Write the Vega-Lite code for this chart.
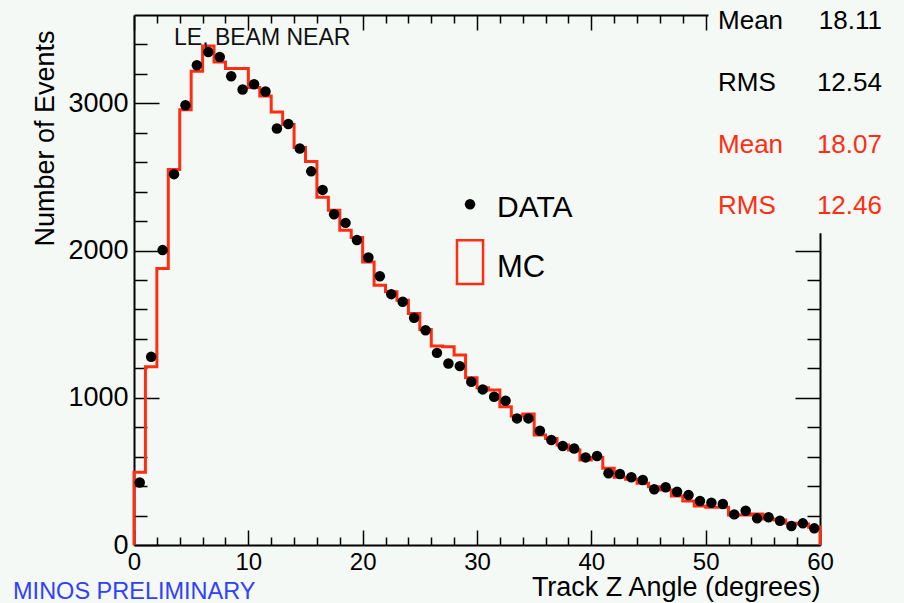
{
  "$schema": "https://vega.github.io/schema/vega-lite/v6.json",
  "width": 686,
  "height": 530,
  "autosize": {"type": "none"},
  "padding": {"left": 134, "top": 15, "right": 84, "bottom": 58},
  "background": "#f4f9f6",
  "config": {
    "view": {"stroke": null},
    "font": "Liberation Sans",
    "axis": {"grid": false, "domainColor": "black", "tickColor": "black", "labelColor": "black", "titleColor": "black", "labelFont": "Liberation Sans", "titleFont": "Liberation Sans", "titleFontWeight": "normal", "labelFlush": false, "labelOverlap": false}
  },
  "datasets": {
    "hist": [
      {"center": 0.5, "data": 425}, {"center": 1.5, "data": 1278}, {"center": 2.5, "data": 2003}, {"center": 3.5, "data": 2519},
      {"center": 4.5, "data": 2987}, {"center": 5.5, "data": 3259}, {"center": 6.5, "data": 3349}, {"center": 7.5, "data": 3315},
      {"center": 8.5, "data": 3184}, {"center": 9.5, "data": 3094}, {"center": 10.5, "data": 3130}, {"center": 11.5, "data": 3080},
      {"center": 12.5, "data": 2829}, {"center": 13.5, "data": 2860}, {"center": 14.5, "data": 2693}, {"center": 15.5, "data": 2538},
      {"center": 16.5, "data": 2412}, {"center": 17.5, "data": 2247}, {"center": 18.5, "data": 2188}, {"center": 19.5, "data": 2071},
      {"center": 20.5, "data": 1953}, {"center": 21.5, "data": 1826}, {"center": 22.5, "data": 1704}, {"center": 23.5, "data": 1652},
      {"center": 24.5, "data": 1543}, {"center": 25.5, "data": 1459}, {"center": 26.5, "data": 1305}, {"center": 27.5, "data": 1233},
      {"center": 28.5, "data": 1215}, {"center": 29.5, "data": 1109}, {"center": 30.5, "data": 1057}, {"center": 31.5, "data": 1007},
      {"center": 32.5, "data": 980}, {"center": 33.5, "data": 860}, {"center": 34.5, "data": 860}, {"center": 35.5, "data": 776},
      {"center": 36.5, "data": 713}, {"center": 37.5, "data": 672}, {"center": 38.5, "data": 656}, {"center": 39.5, "data": 595},
      {"center": 40.5, "data": 604}, {"center": 41.5, "data": 487}, {"center": 42.5, "data": 482}, {"center": 43.5, "data": 460},
      {"center": 44.5, "data": 441}, {"center": 45.5, "data": 378}, {"center": 46.5, "data": 392}, {"center": 47.5, "data": 362},
      {"center": 48.5, "data": 339}, {"center": 49.5, "data": 299}, {"center": 50.5, "data": 287}, {"center": 51.5, "data": 278},
      {"center": 52.5, "data": 208}, {"center": 53.5, "data": 233}, {"center": 54.5, "data": 181}, {"center": 55.5, "data": 188},
      {"center": 56.5, "data": 165}, {"center": 57.5, "data": 129}, {"center": 58.5, "data": 147}, {"center": 59.5, "data": 113}
    ],
    "mc": [
      {"o": 0, "edge": 0, "mc": 0},
      {"o": 1, "edge": 0, "mc": 495}, {"o": 2, "edge": 1, "mc": 1210}, {"o": 3, "edge": 2, "mc": 1878}, {"o": 4, "edge": 3, "mc": 2550},
      {"o": 5, "edge": 4, "mc": 2957}, {"o": 6, "edge": 5, "mc": 3218}, {"o": 7, "edge": 6, "mc": 3390}, {"o": 8, "edge": 7, "mc": 3281},
      {"o": 9, "edge": 8, "mc": 3236}, {"o": 10, "edge": 9, "mc": 3236}, {"o": 11, "edge": 10, "mc": 3107}, {"o": 12, "edge": 11, "mc": 3050},
      {"o": 13, "edge": 12, "mc": 2941}, {"o": 14, "edge": 13, "mc": 2856}, {"o": 15, "edge": 14, "mc": 2700}, {"o": 16, "edge": 15, "mc": 2605},
      {"o": 17, "edge": 16, "mc": 2362}, {"o": 18, "edge": 17, "mc": 2274}, {"o": 19, "edge": 18, "mc": 2138}, {"o": 20, "edge": 19, "mc": 2089},
      {"o": 21, "edge": 20, "mc": 1923}, {"o": 22, "edge": 21, "mc": 1765}, {"o": 23, "edge": 22, "mc": 1720}, {"o": 24, "edge": 23, "mc": 1663},
      {"o": 25, "edge": 24, "mc": 1573}, {"o": 26, "edge": 25, "mc": 1464}, {"o": 27, "edge": 26, "mc": 1351}, {"o": 28, "edge": 27, "mc": 1346},
      {"o": 29, "edge": 28, "mc": 1290}, {"o": 30, "edge": 29, "mc": 1136}, {"o": 31, "edge": 30, "mc": 1068}, {"o": 32, "edge": 31, "mc": 1052},
      {"o": 33, "edge": 32, "mc": 939}, {"o": 34, "edge": 33, "mc": 876}, {"o": 35, "edge": 34, "mc": 889}, {"o": 36, "edge": 35, "mc": 747},
      {"o": 37, "edge": 36, "mc": 724}, {"o": 38, "edge": 37, "mc": 679}, {"o": 39, "edge": 38, "mc": 645}, {"o": 40, "edge": 39, "mc": 577},
      {"o": 41, "edge": 40, "mc": 595}, {"o": 42, "edge": 41, "mc": 521}, {"o": 43, "edge": 42, "mc": 460}, {"o": 44, "edge": 43, "mc": 446},
      {"o": 45, "edge": 44, "mc": 419}, {"o": 46, "edge": 45, "mc": 396}, {"o": 47, "edge": 46, "mc": 373}, {"o": 48, "edge": 47, "mc": 333},
      {"o": 49, "edge": 48, "mc": 299}, {"o": 50, "edge": 49, "mc": 265}, {"o": 51, "edge": 50, "mc": 256}, {"o": 52, "edge": 51, "mc": 256},
      {"o": 53, "edge": 52, "mc": 204}, {"o": 54, "edge": 53, "mc": 204}, {"o": 55, "edge": 54, "mc": 210}, {"o": 56, "edge": 55, "mc": 176},
      {"o": 57, "edge": 56, "mc": 170}, {"o": 58, "edge": 57, "mc": 147}, {"o": 59, "edge": 58, "mc": 143}, {"o": 60, "edge": 59, "mc": 120},
      {"o": 61, "edge": 60, "mc": 120}, {"o": 62, "edge": 60, "mc": 0}
    ]
  },
  "resolve": {"axis": {"x": "independent", "y": "independent"}},
  "layer": [
    {
      "data": {"name": "mc"},
      "mark": {"type": "line", "interpolate": "step-after", "color": "#ff2d12", "strokeWidth": 3, "clip": false},
      "encoding": {
        "x": {"field": "edge", "type": "quantitative", "scale": {"domain": [0, 60], "nice": false, "zero": false},
          "axis": {"orient": "bottom", "values": [0, 10, 20, 30, 40, 50, 60], "ticks": false, "domain": true, "domainWidth": 2, "labelFontSize": 24, "labelPadding": 5, "title": "Track Z Angle (degrees)", "titleFontSize": 27, "titleAnchor": "end", "titlePadding": 0}},
        "y": {"field": "mc", "type": "quantitative", "scale": {"domain": [0, 3600], "nice": false, "zero": false},
          "axis": {"orient": "left", "values": [0, 1000, 2000, 3000], "format": "d", "ticks": false, "domain": true, "domainWidth": 2, "labelFontSize": 27, "labelPadding": 6, "title": "Number of Events", "titleFontSize": 27, "titleAlign": "right", "titleBaseline": "middle", "titleAngle": -90, "titleX": -89, "titleY": 15}},
        "order": {"field": "o", "type": "quantitative"}
      }
    },
    {
      "data": {"name": "hist"},
      "mark": {"type": "circle", "color": "black", "opacity": 1, "size": 110},
      "encoding": {
        "x": {"field": "center", "type": "quantitative", "scale": {"domain": [0, 60], "nice": false, "zero": false},
          "axis": {"orient": "bottom", "values": [0, 10, 20, 30, 40, 50, 60], "labels": false, "domain": false, "tickSize": -15, "tickWidth": 1.5, "title": null}},
        "y": {"field": "data", "type": "quantitative", "scale": {"domain": [0, 3600], "nice": false, "zero": false},
          "axis": {"orient": "left", "values": [0, 1000, 2000, 3000], "labels": false, "domain": false, "tickSize": -25, "tickWidth": 1.5, "title": null}}
      }
    },
    {
      "data": {"values": [{}]},
      "mark": {"type": "rect", "fill": "#f4f9f6", "clip": false},
      "encoding": {
        "x": {"datum": 50.25, "type": "quantitative", "scale": {"domain": [0, 60], "nice": false, "zero": false},
          "axis": {"orient": "bottom", "values": [2, 4, 6, 8, 12, 14, 16, 18, 22, 24, 26, 28, 32, 34, 36, 38, 42, 44, 46, 48, 52, 54, 56, 58], "labels": false, "domain": false, "tickSize": -8, "tickWidth": 1.5, "title": null}},
        "x2": {"datum": 70},
        "y": {"datum": 2118, "type": "quantitative", "scale": {"domain": [0, 3600], "nice": false, "zero": false},
          "axis": {"orient": "left", "values": [200, 400, 600, 800, 1200, 1400, 1600, 1800, 2200, 2400, 2600, 2800, 3200, 3400], "labels": false, "domain": false, "tickSize": -13, "tickWidth": 1.5, "title": null}},
        "y2": {"datum": 3800}
      }
    },
    {
      "data": {"values": [{}]},
      "mark": {"type": "text", "text": "LE, BEAM NEAR", "align": "left", "baseline": "middle", "fontSize": 23, "color": "#111111"},
      "encoding": {
        "x": {"datum": 3.5, "type": "quantitative", "scale": {"domain": [0, 60], "nice": false, "zero": false},
          "axis": {"orient": "top", "values": [0, 10, 20, 30, 40, 50, 60], "labels": false, "domain": true, "domainWidth": 2, "tickSize": -15, "tickWidth": 1.5, "title": null}},
        "y": {"datum": 3441, "type": "quantitative", "scale": {"domain": [0, 3600], "nice": false, "zero": false},
          "axis": {"orient": "right", "values": [0, 1000, 2000, 3000], "labels": false, "domain": true, "domainWidth": 2, "tickSize": -25, "tickWidth": 1.5, "title": null}}
      }
    },
    {
      "data": {"values": [{}]},
      "mark": {"type": "text", "text": "MINOS PRELIMINARY", "align": "left", "baseline": "middle", "fontSize": 23.5, "color": "#3040ff"},
      "encoding": {
        "x": {"datum": -10.58, "type": "quantitative", "scale": {"domain": [0, 60], "nice": false, "zero": false},
          "axis": {"orient": "top", "values": [2, 4, 6, 8, 12, 14, 16, 18, 22, 24, 26, 28, 32, 34, 36, 38, 42, 44, 46, 48, 52, 54, 56, 58], "labels": false, "domain": false, "tickSize": -8, "tickWidth": 1.5, "title": null}},
        "y": {"datum": -319, "type": "quantitative", "scale": {"domain": [0, 3600], "nice": false, "zero": false},
          "axis": {"orient": "right", "values": [200, 400, 600, 800, 1200, 1400, 1600, 1800, 2200, 2400, 2600, 2800, 3200, 3400], "labels": false, "domain": false, "tickSize": -13, "tickWidth": 1.5, "title": null}}
      }
    },
    {
      "data": {"values": [{}]},
      "mark": {"type": "text", "text": ["Mean", "RMS"], "lineHeight": 62, "align": "left", "baseline": "alphabetic", "fontSize": 26, "color": "black"},
      "encoding": {
        "x": {"datum": 51.08, "type": "quantitative", "scale": {"domain": [0, 60], "nice": false, "zero": false}, "axis": null},
        "y": {"datum": 3502, "type": "quantitative", "scale": {"domain": [0, 3600], "nice": false, "zero": false}, "axis": null}
      }
    },
    {
      "data": {"values": [{}]},
      "mark": {"type": "text", "text": ["18.11", "12.54"], "lineHeight": 62, "align": "right", "baseline": "alphabetic", "fontSize": 26, "color": "black"},
      "encoding": {
        "x": {"datum": 65.42, "type": "quantitative", "scale": {"domain": [0, 60], "nice": false, "zero": false}, "axis": null},
        "y": {"datum": 3502, "type": "quantitative", "scale": {"domain": [0, 3600], "nice": false, "zero": false}, "axis": null}
      }
    },
    {
      "data": {"values": [{}]},
      "mark": {"type": "text", "text": ["Mean", "RMS"], "lineHeight": 61, "align": "left", "baseline": "alphabetic", "fontSize": 26, "color": "#ff2d12"},
      "encoding": {
        "x": {"datum": 51.08, "type": "quantitative", "scale": {"domain": [0, 60], "nice": false, "zero": false}, "axis": null},
        "y": {"datum": 2661, "type": "quantitative", "scale": {"domain": [0, 3600], "nice": false, "zero": false}, "axis": null}
      }
    },
    {
      "data": {"values": [{}]},
      "mark": {"type": "text", "text": ["18.07", "12.46"], "lineHeight": 61, "align": "right", "baseline": "alphabetic", "fontSize": 26, "color": "#ff2d12"},
      "encoding": {
        "x": {"datum": 65.42, "type": "quantitative", "scale": {"domain": [0, 60], "nice": false, "zero": false}, "axis": null},
        "y": {"datum": 2661, "type": "quantitative", "scale": {"domain": [0, 3600], "nice": false, "zero": false}, "axis": null}
      }
    },
    {
      "data": {"values": [{}]},
      "mark": {"type": "circle", "color": "black", "opacity": 1, "size": 110},
      "encoding": {
        "x": {"datum": 29.39, "type": "quantitative", "scale": {"domain": [0, 60], "nice": false, "zero": false}, "axis": null},
        "y": {"datum": 2314, "type": "quantitative", "scale": {"domain": [0, 3600], "nice": false, "zero": false}, "axis": null}
      }
    },
    {
      "data": {"values": [{}]},
      "mark": {"type": "text", "text": "DATA", "align": "left", "baseline": "middle", "fontSize": 30, "color": "black"},
      "encoding": {
        "x": {"datum": 31.75, "type": "quantitative", "scale": {"domain": [0, 60], "nice": false, "zero": false}, "axis": null},
        "y": {"datum": 2287, "type": "quantitative", "scale": {"domain": [0, 3600], "nice": false, "zero": false}, "axis": null}
      }
    },
    {
      "data": {"values": [{}]},
      "mark": {"type": "rect", "fill": null, "stroke": "#ff2d12", "strokeWidth": 2.5},
      "encoding": {
        "x": {"datum": 28.25, "type": "quantitative", "scale": {"domain": [0, 60], "nice": false, "zero": false}, "axis": null},
        "x2": {"datum": 30.53},
        "y": {"datum": 2070, "type": "quantitative", "scale": {"domain": [0, 3600], "nice": false, "zero": false}, "axis": null},
        "y2": {"datum": 1772}
      }
    },
    {
      "data": {"values": [{}]},
      "mark": {"type": "text", "text": "MC", "align": "left", "baseline": "middle", "fontSize": 31, "color": "black"},
      "encoding": {
        "x": {"datum": 31.75, "type": "quantitative", "scale": {"domain": [0, 60], "nice": false, "zero": false}, "axis": null},
        "y": {"datum": 1880, "type": "quantitative", "scale": {"domain": [0, 3600], "nice": false, "zero": false}, "axis": null}
      }
    }
  ]
}
